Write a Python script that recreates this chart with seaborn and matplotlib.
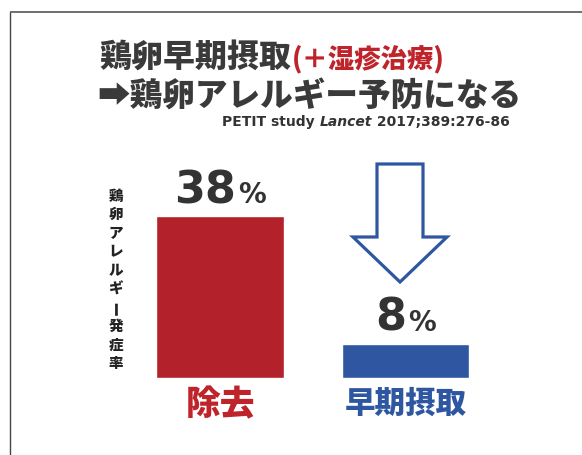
import matplotlib
matplotlib.use("Agg")
import matplotlib.pyplot as plt
from matplotlib.patches import Polygon
import seaborn as sns

# Egg allergy incidence by feeding strategy
groups = ["除去", "早期摂取"]
rates = [38, 8]
bar_colors = ["#b3222a", "#2f56a0"]
label_colors = ["#c0242b", "#2f56a0"]
label_sizes = [25, 22]
ylabel_text = "鶏卵アレルギー発症率"
title_main = "鶏卵早期摂取"
title_note = "(＋湿疹治療)"
title_line2 = "➡鶏卵アレルギー予防になる"
cite_parts = ["PETIT study ", "Lancet", " 2017;389:276-86"]
cite_styles = ["normal", "italic", "normal"]

sns.set_theme(style="white")
plt.rcParams["font.family"] = ["Noto Sans CJK JP", "DejaVu Sans"]

W, H = 582, 455
fig = plt.figure(figsize=(W / 100, H / 100), dpi=100)
fig.patch.set_facecolor("white")

# full-figure overlay in pixel coordinates for titles and decorations
ov = fig.add_axes([0, 0, 1, 1])
ov.set_xlim(0, W)
ov.set_ylim(H, 0)
ov.axis("off")


def fx(px):
    return px / W


def fy(py):
    return 1 - py / H


# bar panel
ax = fig.add_axes([fx(127.25), fy(378), (498.25 - 127.25) / W, (378 - 216) / H])
ax.patch.set_alpha(0)
sns.barplot(x=groups, y=rates, hue=groups, palette=bar_colors, width=0.69,
            saturation=1, legend=False, ax=ax)
ax.set_xlim(-0.5, len(groups) - 0.5)
ax.set_ylim(0, max(rates))
ax.set_yticks([])
ax.set_xlabel("")
ax.set_ylabel("")
sns.despine(ax=ax, left=True, bottom=True)
ax.tick_params(axis="x", length=0, pad=7)
ax.set_xticks(range(len(groups)))
ax.set_xticklabels(groups)
for lbl, c, s in zip(ax.get_xticklabels(), label_colors, label_sizes):
    lbl.set_color(c)
    lbl.set_fontsize(s)
    lbl.set_fontweight("heavy")

# value labels above the bars
value_texts = []
for i, v in enumerate(rates):
    num = ax.annotate(f"{v}", xy=(i, v), xytext=(0, 13), textcoords="offset pixels",
                      ha="left", va="baseline", fontsize=32, fontweight="bold",
                      color="#333333", family="DejaVu Sans", annotation_clip=False)
    pct = ax.annotate("%", xy=(i, v), xytext=(0, 13), textcoords="offset pixels",
                      ha="left", va="baseline", fontsize=20, fontweight="bold",
                      color="#333333", family="DejaVu Sans", annotation_clip=False)
    value_texts.append((num, pct))

# vertical y-axis caption, one character per row
for i, ch in enumerate(ylabel_text):
    ov.text(116, 196 + i * 18.6, ch, ha="center", va="center", fontsize=10.5,
            fontweight="heavy", color="#222222", rotation=90 if ch == "ー" else 0)

# frame corner
ov.plot([10, 10], [12, H], color="#444444", lw=1.0, solid_capstyle="butt")
ov.plot([10, W], [12, 12], color="#555555", lw=1.2, solid_capstyle="butt")

# titles
t1 = ov.text(99, 67, title_main, fontsize=23, fontweight="heavy", color="#3a3a3a",
             va="baseline", ha="left")
t1b = ov.text(297, 67, title_note, fontsize=19, fontweight="heavy", color="#c0242b",
              va="baseline", ha="left")
t2 = ov.text(97, 107, title_line2, fontsize=23.5, fontweight="heavy", color="#3a3a3a",
             va="baseline", ha="left")
cite = []
for part, st in zip(cite_parts, cite_styles):
    cite.append(ov.text(0, 126, part, fontsize=10, fontweight="bold", style=st,
                        color="#333333", family="DejaVu Sans", va="baseline", ha="left"))

# hollow down arrow
d = 8
arrow_pts = [(377, 156 + d), (423, 156 + d), (423, 229 + d), (447, 229 + d),
             (400, 274 + d), (353, 229 + d), (377, 229 + d)]
ov.add_patch(Polygon(arrow_pts, closed=True, facecolor="white", edgecolor="#2f56a0",
                     lw=2.3, joinstyle="miter"))

# lay out chained text pieces from measured extents
fig.canvas.draw()
r = fig.canvas.get_renderer()
t1b.set_x(t1.get_window_extent(r).x1 + 1)
widths = [t.get_window_extent(r).width for t in cite]
x = 510 - sum(widths)
for t, w in zip(cite, widths):
    t.set_x(x)
    x += w
for num, pct in value_texts:
    w1 = num.get_window_extent(r).width
    w2 = pct.get_window_extent(r).width
    start = -(w1 + w2 + 2) / 2
    num.xyann = (start, 13)
    pct.xyann = (start + w1 + 2, 13)

fig.savefig("out.png", dpi=100, facecolor="white")
